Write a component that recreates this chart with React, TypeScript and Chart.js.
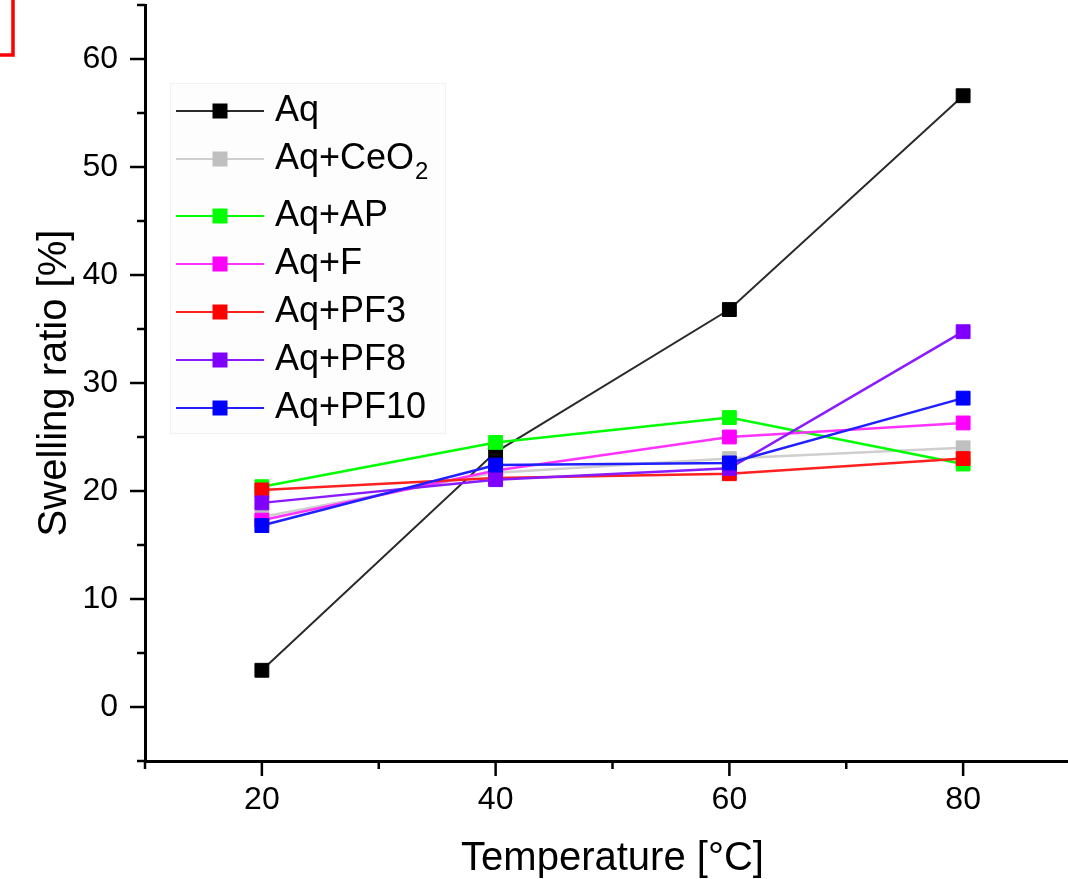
import React, { useEffect, useRef } from "react";
import { Chart, registerables } from "chart.js";

Chart.register(...registerables);

// ---- data ----
const temps = [20, 40, 60, 80];
const aq = [3.4, 23.6, 36.8, 56.6];
const aqCeO2 = [17.6, 21.7, 23.0, 24.0];
const aqAP = [20.4, 24.5, 26.8, 22.5];
const aqF = [17.3, 21.9, 25.0, 26.3];
const aqPF3 = [20.1, 21.2, 21.6, 23.0];
const aqPF8 = [18.9, 21.05, 22.1, 34.75];
const aqPF10 = [16.8, 22.4, 22.6, 28.6];

const seriesNames = ["Aq", "Aq+CeO₂", "Aq+AP", "Aq+F", "Aq+PF3", "Aq+PF8", "Aq+PF10"];
const seriesValues = [aq, aqCeO2, aqAP, aqF, aqPF3, aqPF8, aqPF10];
const seriesColors = ["#000000", "#c0c0c0", "#00ff00", "#ff00ff", "#ff0000", "#8000ff", "#0000ff"];
const lineColors = ["#2a2a2a", "#cfcfcf", "#00ff00", "#ff33ff", "#ff2020", "#8a1aff", "#2020ff"];

const xTickValues = [20, 40, 60, 80];
const xMinorTicks = [10, 30, 50, 70, 90];
const yTickValues = [0, 10, 20, 30, 40, 50, 60];
const yMinorTicks = [-5, 5, 15, 25, 35, 45, 55, 65];

const FONT = "'Liberation Sans', Arial, sans-serif";

const subMap: Record<string, string> = {
  "₀": "0", "₁": "1", "₂": "2", "₃": "3", "₄": "4", "₅": "5", "₆": "6", "₇": "7", "₈": "8", "₉": "9",
};

const ticksPlugin = {
  id: "axisTicks",
  afterDraw(chart: any) {
    const { ctx, chartArea } = chart;
    const x = chart.scales.x;
    const y = chart.scales.y;
    ctx.save();
    ctx.strokeStyle = "#000";
    ctx.lineWidth = 2.5;
    ctx.lineCap = "butt";
    const seg = (x1: number, y1: number, x2: number, y2: number) => {
      ctx.beginPath();
      ctx.moveTo(x1, y1);
      ctx.lineTo(x2, y2);
      ctx.stroke();
    };
    yTickValues.forEach((v) => {
      const p = y.getPixelForValue(v);
      seg(chartArea.left - 15, p, chartArea.left, p);
    });
    yMinorTicks.forEach((v) => {
      const p = y.getPixelForValue(v);
      seg(chartArea.left - 8, p, chartArea.left, p);
    });
    xTickValues.forEach((v) => {
      const p = x.getPixelForValue(v);
      seg(p, chartArea.bottom, p, chartArea.bottom + 15);
    });
    xMinorTicks.forEach((v) => {
      const p = x.getPixelForValue(v);
      seg(p, chartArea.bottom, p, chartArea.bottom + 8);
    });
    ctx.restore();
  },
};

const legendPlugin = {
  id: "customLegend",
  afterDatasetsDraw(chart: any) {
    const { ctx } = chart;
    const box = { left: 170, top: 83, right: 445, bottom: 433 };
    ctx.save();
    ctx.fillStyle = "#fdfdfd";
    ctx.strokeStyle = "#f2f2f2";
    ctx.lineWidth = 1;
    ctx.fillRect(box.left, box.top, box.right - box.left, box.bottom - box.top);
    ctx.strokeRect(box.left + 0.5, box.top + 0.5, box.right - box.left, box.bottom - box.top);
    let rowY = 111;
    chart.data.datasets.forEach((ds: any) => {
      const label: string = ds.label;
      ctx.strokeStyle = ds.borderColor;
      ctx.lineWidth = 2;
      ctx.beginPath();
      ctx.moveTo(176, rowY);
      ctx.lineTo(264, rowY);
      ctx.stroke();
      ctx.fillStyle = ds.pointBackgroundColor;
      ctx.fillRect(220 - 7.5, rowY - 7.5, 15, 15);
      let tx = 275;
      let hasSub = false;
      ctx.fillStyle = "#000";
      ctx.textBaseline = "middle";
      ctx.textAlign = "left";
      for (const ch of Array.from(label)) {
        if (subMap[ch]) {
          hasSub = true;
          ctx.font = `24px ${FONT}`;
          ctx.fillText(subMap[ch], tx + 1, rowY + 13);
          tx += ctx.measureText(subMap[ch]).width;
        } else {
          ctx.font = `36px ${FONT}`;
          ctx.fillText(ch, tx, rowY);
          tx += ctx.measureText(ch).width;
        }
      }
      rowY += 48 + (hasSub ? 9 : 0);
    });
    ctx.restore();
  },
};

const bracketPlugin = {
  id: "redBracket",
  afterDraw(chart: any) {
    const { ctx } = chart;
    ctx.save();
    ctx.strokeStyle = "#ff0000";
    ctx.lineWidth = 3.5;
    ctx.beginPath();
    ctx.moveTo(13, 0);
    ctx.lineTo(13, 55);
    ctx.lineTo(0, 55);
    ctx.stroke();
    ctx.restore();
  },
};

export default function App() {
  const ref = useRef<HTMLCanvasElement | null>(null);

  useEffect(() => {
    if (!ref.current) return;
    const n = seriesNames.length;
    const chart = new Chart(ref.current, {
      type: "line",
      data: {
        datasets: seriesNames.map((name, i) => ({
          label: name,
          data: temps.map((t, j) => ({ x: t, y: seriesValues[i][j] })),
          borderColor: lineColors[i],
          backgroundColor: seriesColors[i],
          pointBackgroundColor: seriesColors[i],
          pointBorderColor: seriesColors[i],
          pointBorderWidth: 1,
          pointStyle: "rect",
          pointRadius: 9.8,
          borderWidth: i === 0 ? 2 : 2.5,
          tension: 0,
          fill: false,
          order: n - 1 - i,
          clip: false as any,
        })),
      },
      options: {
        responsive: false,
        animation: false,
        devicePixelRatio: 1,
        layout: { autoPadding: false, padding: { left: 0, top: 5, right: 10, bottom: 0 } },
        plugins: { legend: { display: false }, tooltip: { enabled: false } },
        scales: {
          x: {
            type: "linear",
            min: 10,
            max: 90,
            afterFit: (s: any) => {
              s.height = 118;
              s.paddingLeft = 0;
              s.paddingRight = 0;
              s.paddingTop = 0;
              s.paddingBottom = 0;
            },
            afterBuildTicks: (s: any) => {
              s.ticks = xTickValues.map((v) => ({ value: v }));
            },
            grid: { display: false, drawTicks: false },
            border: { display: true, color: "#000", width: 3 },
            ticks: { color: "#000", font: { family: FONT, size: 32 }, padding: 20, maxRotation: 0 },
            title: {
              display: true,
              text: "Temperature [°C]",
              color: "#000",
              font: { family: FONT, size: 40, lineHeight: 1 },
              padding: { top: 1, bottom: 0 },
            },
          },
          y: {
            type: "linear",
            min: -5,
            max: 65,
            afterFit: (s: any) => {
              s.width = 145;
              s.paddingLeft = 0;
              s.paddingRight = 0;
              s.paddingTop = 0;
              s.paddingBottom = 0;
            },
            afterBuildTicks: (s: any) => {
              s.ticks = yTickValues.map((v) => ({ value: v }));
            },
            grid: { display: false, drawTicks: false },
            border: { display: true, color: "#000", width: 3 },
            ticks: { color: "#000", font: { family: FONT, size: 32 }, padding: 27 },
            title: {
              display: true,
              text: "Swelling ratio [%]",
              color: "#000",
              font: { family: FONT, size: 40, lineHeight: 1 },
              padding: { top: 35, bottom: 0 },
            },
          },
        },
      },
      plugins: [legendPlugin, ticksPlugin, bracketPlugin],
    });
    return () => chart.destroy();
  }, []);

  return (
    <div
      style={{
        position: "absolute",
        left: 0,
        top: 0,
        width: 1068,
        height: 879,
        overflow: "hidden",
        background: "#fff",
      }}
    >
      <canvas ref={ref} width={1090} height={879} style={{ display: "block", width: 1090, height: 879 }} />
    </div>
  );
}
